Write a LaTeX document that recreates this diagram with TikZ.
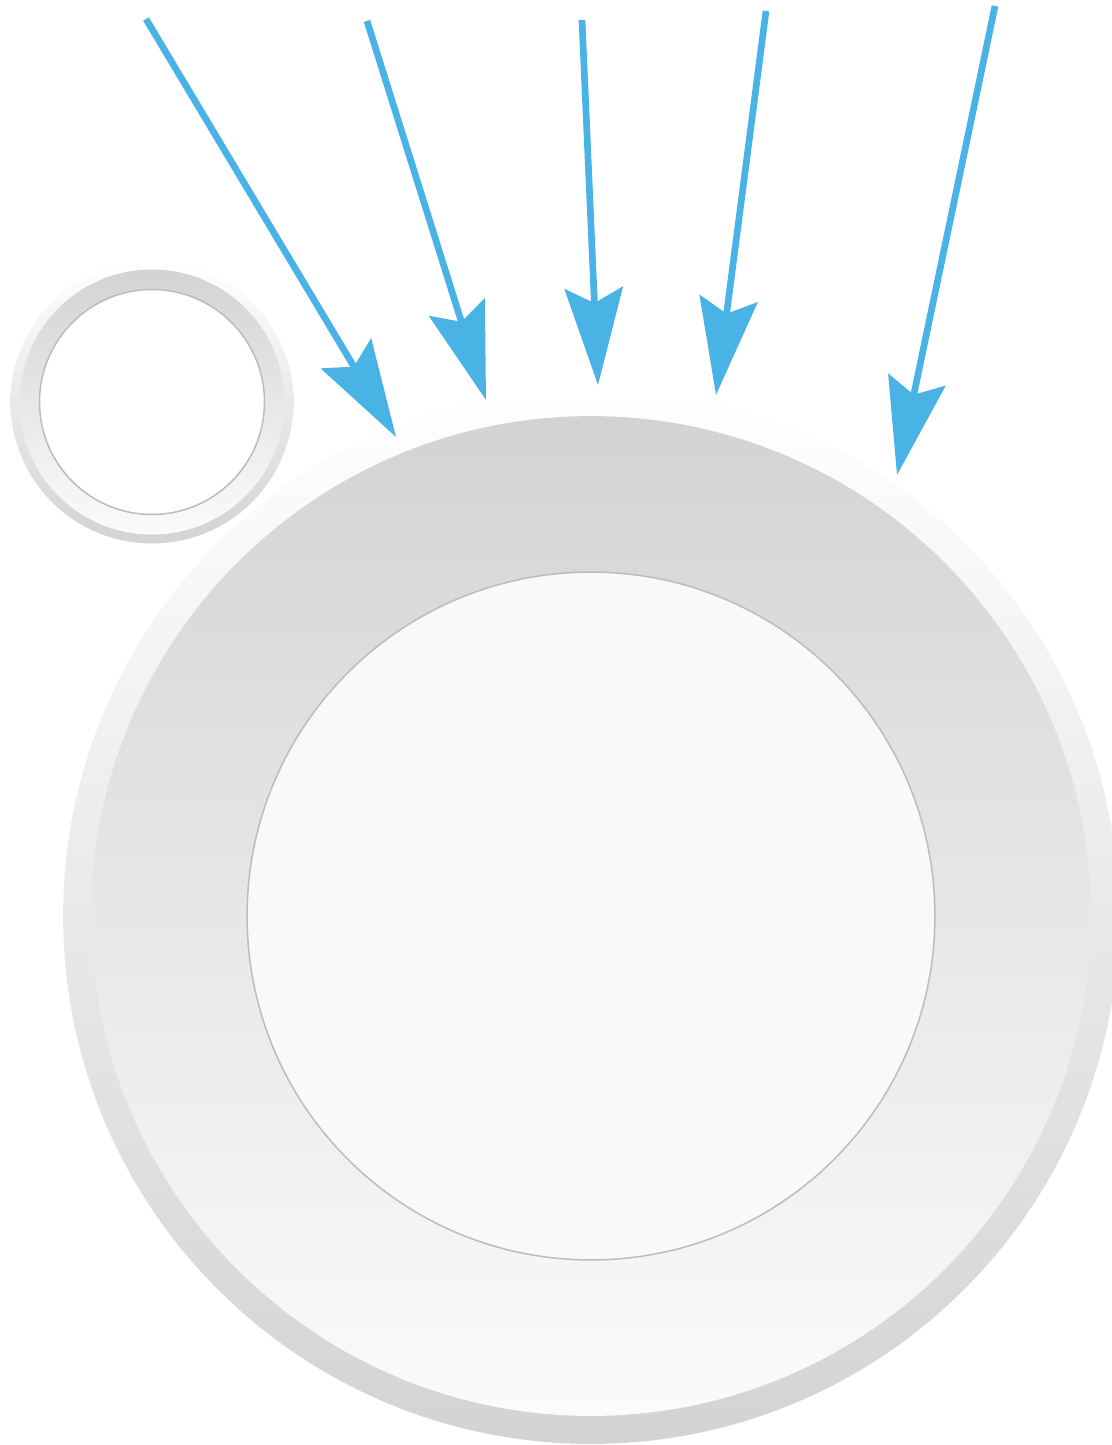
\documentclass[tikz,border=0pt]{standalone}
\usetikzlibrary{arrows.meta}

\definecolor{azulflecha}{RGB}{74,179,230}
\definecolor{grisborde}{RGB}{188,188,190}
\definecolor{grisaro}{RGB}{210,211,213}
\definecolor{grisclaro}{RGB}{250,251,251}
\definecolor{rellenonucleo}{RGB}{248,249,249}

\begin{document}
\begin{tikzpicture}[
    x=0.02cm, y=-0.02cm,
    % Anillo exterior: claro arriba, gris abajo
    aro/.style={circle, inner sep=0pt, top color=white, bottom color=grisaro},
    % Banda interior: gradiente invertido
    banda/.style={circle, inner sep=0pt, top color=grisaro, bottom color=grisclaro},
    nucleo/.style={circle, inner sep=0pt, draw=grisborde, line width=0.85pt, fill=rellenonucleo},
    % Flechas entrantes
    entrada/.style={line width=3.8pt, draw=azulflecha, -{Stealth[length=19.4mm, width=11.6mm, inset=3mm]}}
]

\useasboundingbox (0,0) rectangle (1112,1445);

% --- Celula grande ---
\node[aro, minimum size=21.12cm] (cell) at (591,916) {};
\node[banda, minimum size=20cm] (cellband) at (cell.center) {};
\node[nucleo, minimum size=13.76cm] (cellcore) at (cell.center) {};

% --- Celula pequena ---
\node[aro, minimum size=5.66cm] (small) at (152,402) {};
\node[banda, minimum size=5.3cm] (smallband) at (small.center) {};
\node[nucleo, fill=white, minimum size=4.5cm] (smallcore) at (small.center) {};

% --- Puntos de las flechas ---
\coordinate (s1) at (146,19);  \coordinate (t1) at (396,437);
\coordinate (s2) at (367,21);  \coordinate (t2) at (486,400);
\coordinate (s3) at (582,20);  \coordinate (t3) at (598,385);
\coordinate (s4) at (766,11);  \coordinate (t4) at (716,395);
\coordinate (s5) at (995,6);   \coordinate (t5) at (897,475);

\draw[entrada] (s1) -- (t1);
\draw[entrada] (s2) -- (t2);
\draw[entrada] (s3) -- (t3);
\draw[entrada] (s4) -- (t4);
\draw[entrada] (s5) -- (t5);

\end{tikzpicture}
\end{document}
